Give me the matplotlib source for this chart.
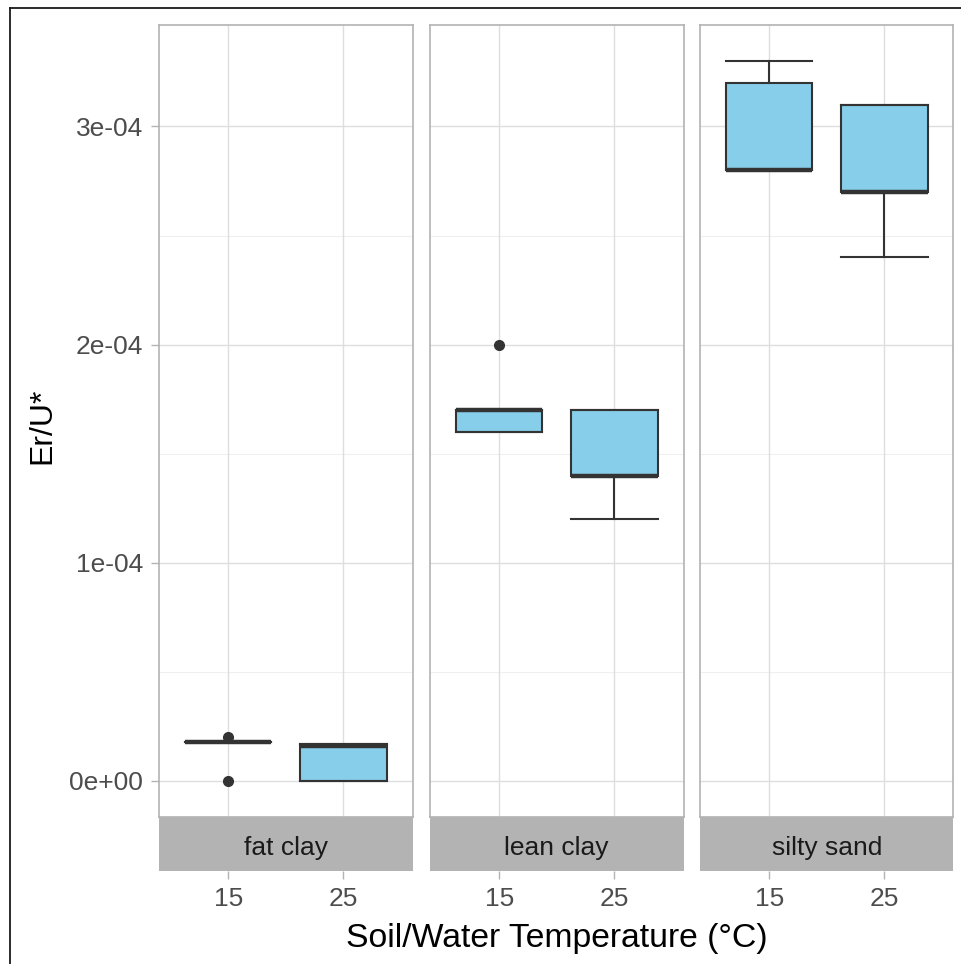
import matplotlib
matplotlib.use("Agg")
import matplotlib.pyplot as plt
from matplotlib.lines import Line2D

plt.rcParams['font.family'] = ['Liberation Sans', 'DejaVu Sans']

# Soil types (facets) and temperatures (x categories)
soils = ["fat clay", "lean clay", "silty sand"]
temps = ["15", "25"]

# Er/U* observations per soil and temperature
fat_clay_15 = [0.0, 1.8e-5, 1.8e-5, 1.8e-5, 2.0e-5]
fat_clay_25 = [0.0, 0.0, 1.6e-5, 1.7e-5, 1.7e-5]
lean_clay_15 = [1.6e-4, 1.6e-4, 1.7e-4, 1.7e-4, 2.0e-4]
lean_clay_25 = [1.2e-4, 1.4e-4, 1.4e-4, 1.7e-4, 1.7e-4]
silty_sand_15 = [2.8e-4, 2.8e-4, 2.8e-4, 3.2e-4, 3.3e-4]
silty_sand_25 = [2.4e-4, 2.7e-4, 2.7e-4, 3.1e-4, 3.1e-4]

groups = [
    [fat_clay_15, fat_clay_25],
    [lean_clay_15, lean_clay_25],
    [silty_sand_15, silty_sand_25],
]

y_ticks = [0.0, 1e-4, 2e-4, 3e-4]
y_tick_labels = ["0e+00", "1e-04", "2e-04", "3e-04"]
y_minor = [0.5e-4, 1.5e-4, 2.5e-4]

W, H = 961, 964
fig = plt.figure(figsize=(W / 100, H / 100), dpi=100)
fig.patch.set_facecolor("white")


def fx(px):
    return px / W


def fy(py):
    return 1 - py / H


panel_left = [159, 430, 700]
panel_w = 253.5
panel_top, panel_bot = 25, 817
strip_bot = 871

ylo, yhi = -0.165e-4, 3.465e-4
border = "#B3B3B3"
ink = "#333333"

for i, soil in enumerate(soils):
    x0 = panel_left[i]
    ax = fig.add_axes([fx(x0), fy(panel_bot), fx(panel_w), (panel_bot - panel_top) / H])
    ax.set_xlim(0.4, 2.6)
    ax.set_ylim(ylo, yhi)
    ax.set_facecolor("white")
    ax.set_axisbelow(True)
    # grid
    for yv in y_minor:
        ax.axhline(yv, color="#EFEFEF", lw=0.8, zorder=0)
    for yv in y_ticks:
        ax.axhline(yv, color="#DEDEDE", lw=1.0, zorder=0)
    for xv in (1, 2):
        ax.axvline(xv, color="#DEDEDE", lw=1.0, zorder=0)

    ax.boxplot(
        groups[i], positions=[1, 2], widths=0.75, whis=1.5,
        patch_artist=True, capwidths=0.75,
        boxprops=dict(facecolor="#87CEEB", edgecolor=ink, linewidth=1.5),
        medianprops=dict(color=ink, linewidth=3.2, solid_capstyle="butt"),
        whiskerprops=dict(color=ink, linewidth=1.5),
        capprops=dict(color=ink, linewidth=1.5),
        flierprops=dict(marker="o", markerfacecolor=ink, markeredgecolor=ink, markersize=7),
        zorder=3,
    )

    for sp in ax.spines.values():
        sp.set_color(border)
        sp.set_linewidth(1.2)
    ax.set_xticks([])
    ax.set_xticklabels([])
    if i == 0:
        ax.set_yticks(y_ticks)
        ax.set_yticklabels(y_tick_labels, fontsize=19, color="#4D4D4D")
        ax.tick_params(axis="y", length=5.5, width=1.0, color=border, pad=6)
    else:
        ax.set_yticks([])

    # strip with facet label and the x ticks beneath it
    sax = fig.add_axes([fx(x0), fy(strip_bot), fx(panel_w), (strip_bot - panel_bot) / H])
    sax.set_xlim(0.4, 2.6)
    sax.set_ylim(0, 1)
    sax.set_facecolor("#B3B3B3")
    for sp in sax.spines.values():
        sp.set_visible(False)
    sax.set_yticks([])
    sax.set_xticks([1, 2])
    sax.set_xticklabels(temps, fontsize=19, color="#4D4D4D")
    sax.tick_params(axis="x", length=5.5, width=1.0, color=border, pad=6)
    sax.text(1.5, 0.42, soil, ha="center", va="center", fontsize=19, color="#1A1A1A")

fig.text(fx(556.5), fy(938), "Soil/Water Temperature (°C)", ha="center", va="center",
         fontsize=24.3, color="black")
fig.text(fx(42), fy(426), "Er/U*", ha="center", va="center", rotation=90,
         fontsize=23, color="black")

# outer frame (top and left edges)
fig.add_artist(Line2D([fx(10), 1], [fy(8), fy(8)], color="#1A1A1A", lw=1.3))
fig.add_artist(Line2D([fx(10), fx(10)], [fy(8), 0], color="#1A1A1A", lw=1.3))

fig.savefig("out.png", dpi=100)
